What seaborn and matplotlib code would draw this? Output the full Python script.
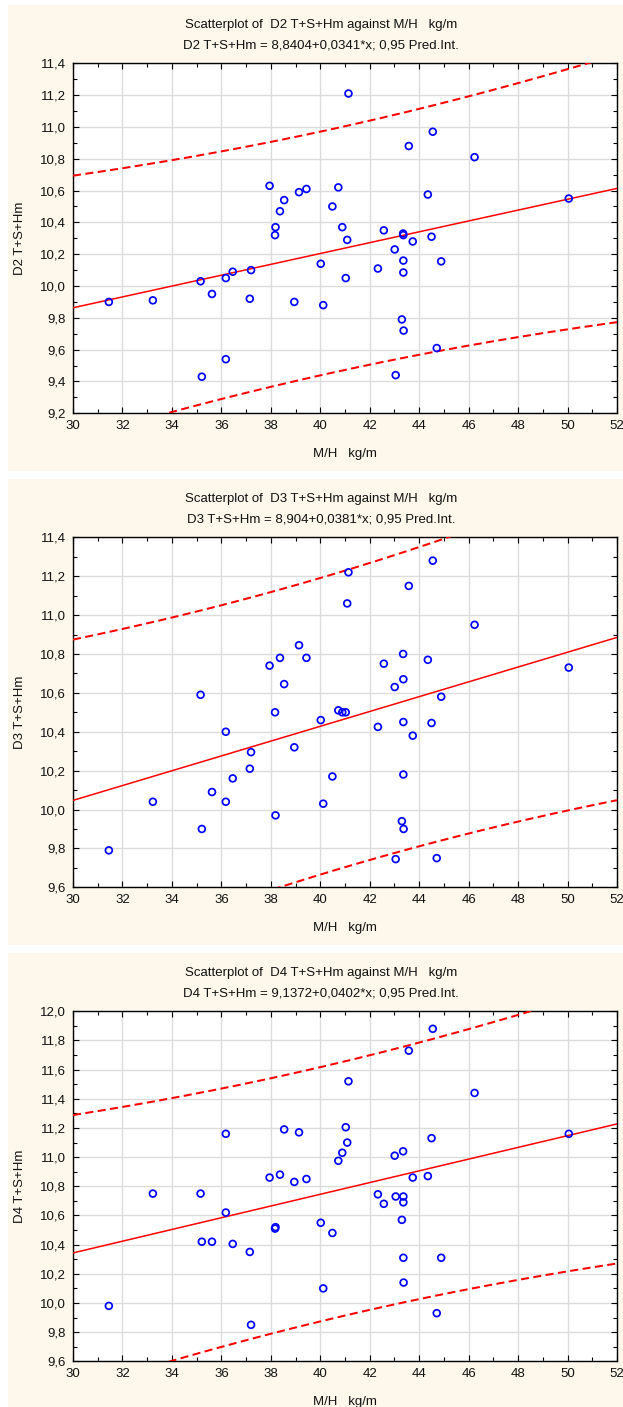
import numpy as np
import pandas as pd
import matplotlib
matplotlib.use("Agg")
import matplotlib.pyplot as plt
from matplotlib.patches import Rectangle
from matplotlib.ticker import MultipleLocator, FuncFormatter
import seaborn as sns

# ---------------- data ----------------
MH = [31.45, 33.23, 35.16, 35.21, 35.62, 36.18, 36.18, 36.46, 37.15, 37.20,
      37.95, 38.17, 38.19, 38.37, 38.54, 38.95, 39.14, 39.44, 40.02, 40.12,
      40.49, 40.73, 40.89, 41.03, 41.09, 41.14, 42.33, 42.57, 43.01, 43.05,
      43.30, 43.35, 43.36, 43.36, 43.36, 43.37, 43.58, 43.74, 44.35, 44.50,
      44.55, 44.71, 44.89, 46.24, 50.05]

D2 = [9.90, 9.91, 10.03, 9.43, 9.95, 10.05, 9.54, 10.09, 9.92, 10.10,
      10.63, 10.32, 10.37, 10.47, 10.54, 9.90, 10.59, 10.61, 10.14, 9.88,
      10.50, 10.62, 10.37, 10.05, 10.29, 11.21, 10.11, 10.35, 10.23, 9.44,
      9.79, 10.33, 10.32, 10.16, 10.085, 9.72, 10.88, 10.28, 10.575, 10.31,
      10.97, 9.61, 10.155, 10.81, 10.55]

D3 = [9.79, 10.04, 10.59, 9.90, 10.09, 10.40, 10.04, 10.16, 10.21, 10.295,
      10.74, 10.50, 9.97, 10.78, 10.645, 10.32, 10.845, 10.78, 10.46, 10.03,
      10.17, 10.51, 10.50, 10.50, 11.06, 11.22, 10.425, 10.75, 10.63, 9.745,
      9.94, 10.80, 10.67, 10.45, 10.18, 9.90, 11.15, 10.38, 10.77, 10.445,
      11.28, 9.75, 10.58, 10.95, 10.73]

D4 = [9.98, 10.75, 10.75, 10.42, 10.42, 11.16, 10.62, 10.405, 10.35, 9.85,
      10.86, 10.51, 10.52, 10.88, 11.19, 10.83, 11.17, 10.85, 10.55, 10.10,
      10.48, 10.975, 11.03, 11.205, 11.10, 11.52, 10.745, 10.68, 11.01, 10.73,
      10.57, 11.04, 10.73, 10.69, 10.31, 10.14, 11.73, 10.86, 10.87, 11.13,
      11.88, 9.93, 10.31, 11.44, 11.16]

SERIES = ["D2 T+S+Hm", "D3 T+S+Hm", "D4 T+S+Hm"]
INTERCEPTS = [8.8404, 8.904, 9.1372]
SLOPES = [0.0341, 0.0381, 0.0402]
EQUATIONS = ["D2 T+S+Hm = 8,8404+0,0341*x; 0,95 Pred.Int.",
             "D3 T+S+Hm = 8,904+0,0381*x; 0,95 Pred.Int.",
             "D4 T+S+Hm = 9,1372+0,0402*x; 0,95 Pred.Int."]
XLABEL = "M/H   kg/m"
YLIMS = [(9.2, 11.4), (9.6, 11.4), (9.6, 12.0)]
XLIM = (30, 52)
T_CRIT = 2.0167  # t(0.975, df=43)

# ---------------- style ----------------
sns.set_style("white")
plt.rcParams["font.family"] = ["Liberation Sans", "DejaVu Sans"]

W, H = 623, 1407
fig = plt.figure(figsize=(W / 100, H / 100), dpi=100, facecolor="white")
CREAM = "#FDF8EB"

def fx(px):
    return px / W

def fy(py):
    return 1 - py / H

comma = FuncFormatter(lambda v, p: f"{v:.1f}".replace(".", ","))
intfmt = FuncFormatter(lambda v, p: f"{v:.0f}")

PERIOD = 474
for i, (yvals, name) in enumerate(zip([D2, D3, D4], SERIES)):
    off = PERIOD * i
    # panel background
    top_bg = 5 + off
    bot_bg = min(471 + off, H + 5)
    fig.patches.append(Rectangle((fx(8), fy(bot_bg)), fx(W - 8), fy(top_bg) - fy(bot_bg),
                                 transform=fig.transFigure, facecolor=CREAM,
                                 edgecolor="none", zorder=-5))
    # titles
    fig.text(fx(321), fy(25 + off), f"Scatterplot of  {name} against {XLABEL}",
             ha="center", va="center", fontsize=9.5, color="#111111")
    fig.text(fx(321), fy(45 + off), EQUATIONS[i],
             ha="center", va="center", fontsize=9.5, color="#111111")

    top = 63.3 + off
    hgt = 350
    ax = fig.add_axes([fx(73), fy(top + hgt), fx(544), hgt / H])
    ax.set_zorder(2)
    ax.set_facecolor("white")

    df = pd.DataFrame({"x": MH, "y": yvals})
    a, b = INTERCEPTS[i], SLOPES[i]
    xs = np.asarray(MH)
    ys = np.asarray(yvals)
    n = len(xs)
    resid = ys - (a + b * xs)
    s = np.sqrt(np.sum(resid ** 2) / (n - 2))
    xbar = xs.mean()
    sxx = np.sum((xs - xbar) ** 2)
    grid = np.linspace(XLIM[0], XLIM[1], 200)
    fit = a + b * grid
    half = T_CRIT * s * np.sqrt(1 + 1 / n + (grid - xbar) ** 2 / sxx)
    lines = pd.DataFrame({"x": grid, "fit": fit, "lo": fit - half, "hi": fit + half})

    sns.lineplot(data=lines, x="x", y="fit", ax=ax, color="#FF0000", lw=1.1,
                 estimator=None, zorder=3)
    for col in ["hi", "lo"]:
        sns.lineplot(data=lines, x="x", y=col, ax=ax, color="#FF0000", lw=1.45,
                     estimator=None, zorder=3)
    for ln in ax.lines[1:]:
        ln.set_dashes((4, 2.2))

    sns.scatterplot(data=df, x="x", y="y", ax=ax, s=24, marker="o",
                    facecolor="none", edgecolor="#0000FF", linewidth=1.25, zorder=4)
    for coll in ax.collections:
        coll.set_facecolor("none")
        coll.set_edgecolor("#0000FF")

    ax.set_xlim(*XLIM)
    ax.set_ylim(*YLIMS[i])
    ax.xaxis.set_major_locator(MultipleLocator(2))
    ax.xaxis.set_minor_locator(MultipleLocator(1))
    ax.yaxis.set_major_locator(MultipleLocator(0.2))
    ax.yaxis.set_minor_locator(MultipleLocator(0.1))
    ax.xaxis.set_major_formatter(intfmt)
    ax.yaxis.set_major_formatter(comma)
    ax.grid(True, which="major", color="#DCDCDC", lw=1.0, zorder=0)
    ax.set_axisbelow(True)
    ax.tick_params(which="both", direction="in", top=True, right=True,
                   bottom=True, left=True, color="black", width=0.8)
    ax.tick_params(which="major", length=4, labelsize=9.5, pad=5, labelcolor="#111111")
    ax.tick_params(which="minor", length=3)
    for sp in ax.spines.values():
        sp.set_color("black")
        sp.set_linewidth(1.0)
        sp.set_visible(True)

    ax.set_xlabel(XLABEL, fontsize=9.5, color="#111111")
    ax.set_ylabel(name, fontsize=9.5, color="#111111")
    ax.xaxis.set_label_coords(0.5, -41 / hgt)
    ax.xaxis.label.set_va("center")
    ax.yaxis.set_label_coords((20 - 73) / 544, 0.5)
    ax.yaxis.label.set_va("center")

fig.savefig("out.png", dpi=100, facecolor="white")
